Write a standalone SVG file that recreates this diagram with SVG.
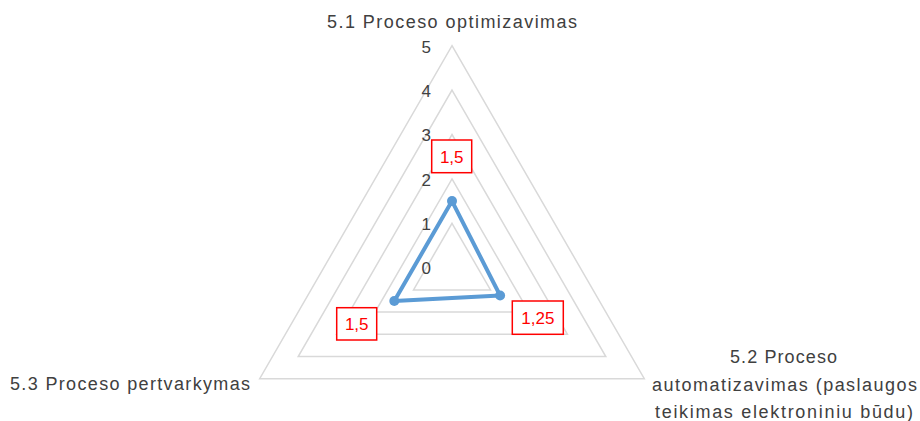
<svg xmlns="http://www.w3.org/2000/svg" width="920" height="421" viewBox="0 0 920 421">
<style>
.grid{fill:none;stroke:#d9d9d9;stroke-width:1.5}
.tick{font-family:"Liberation Sans",Arial,sans-serif;font-size:17px;fill:#404040;text-anchor:end;dominant-baseline:central}
.cat{font-family:"Liberation Sans",Arial,sans-serif;font-size:18px;fill:#404040}
.box{fill:#fff;stroke:#ff0000;stroke-width:1.5}
.dl{font-family:"Liberation Sans",Arial,sans-serif;font-size:17px;fill:#ff0000;text-anchor:middle;dominant-baseline:central}
.series{fill:none;stroke:#5b9bd5;stroke-width:4;stroke-linejoin:round}
.pt{fill:#5b9bd5}
</style>
<rect width="920" height="421" fill="#fff"/>
<g id="grid">
<polygon class="grid" points="452,45.7 644.3,378.7 259.7,378.7"/>
<polygon class="grid" points="452,90.1 605.8,356.5 298.2,356.5"/>
<polygon class="grid" points="452,134.5 567.4,334.3 336.6,334.3"/>
<polygon class="grid" points="452,178.9 528.9,312.1 375.1,312.1"/>
<polygon class="grid" points="452,223.3 490.5,289.9 413.5,289.9"/>
</g>
<g id="ticks">
<text class="tick" x="431" y="47">5</text>
<text class="tick" x="431" y="91">4</text>
<text class="tick" x="431" y="135">3</text>
<text class="tick" x="431" y="180">2</text>
<text class="tick" x="431" y="224">1</text>
<text class="tick" x="431" y="268">0</text>
</g>
<g id="connectors">
<polygon class="series" points="452,201.1 500.1,295.5 394.3,301"/>
</g>
<g id="points">
<circle class="pt" cx="452" cy="201.1" r="5"/>
<circle class="pt" cx="500.1" cy="295.5" r="5"/>
<circle class="pt" cx="394.3" cy="301" r="5"/>
</g>
<g id="label-top">
<rect class="box" x="431.7" y="140" width="40" height="32.7"/>
<text class="dl" x="451.7" y="157">1,5</text>
</g>
<g id="label-left">
<rect class="box" x="336.7" y="307.7" width="40" height="32.3"/>
<text class="dl" x="356.7" y="324.5">1,5</text>
</g>
<g id="label-right">
<rect class="box" x="512.3" y="301" width="51" height="33.3"/>
<text class="dl" x="537.8" y="318">1,25</text>
</g>
<g id="cat-51">
<text class="cat" x="327" y="28" textLength="250" lengthAdjust="spacing">5.1 Proceso optimizavimas</text>
</g>
<g id="cat-52">
<text class="cat" x="730" y="363" textLength="107" lengthAdjust="spacing">5.2 Proceso</text>
<text class="cat" x="652" y="391" textLength="265" lengthAdjust="spacing">automatizavimas (paslaugos</text>
<text class="cat" x="655" y="418" textLength="258" lengthAdjust="spacing">teikimas elektroniniu būdu)</text>
</g>
<g id="cat-53">
<text class="cat" x="10" y="390" textLength="240" lengthAdjust="spacing">5.3 Proceso pertvarkymas</text>
</g>
</svg>
